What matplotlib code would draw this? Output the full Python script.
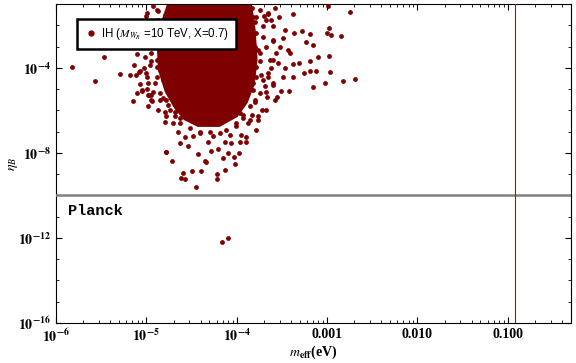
import numpy as np
import matplotlib
matplotlib.use('Agg')
import matplotlib.pyplot as plt
from matplotlib.lines import Line2D

plt.rcParams['font.family'] = ['Liberation Serif', 'DejaVu Serif']
plt.rcParams['mathtext.fontset'] = 'stix'

# scattered points (log10 of m_eff in eV, log10 of eta_B)
log_m_eff = [
    -5.823, -5.566, -5.466, -5.293, -5.182, -5.146, -5.105, -5.135, -5.116, -5.080,
    -5.068, -5.053, -4.987, -5.024, -4.969, -4.939, -5.006, -4.950, -5.009, -4.887,
    -3.572, -3.378, -2.744, -2.990, -2.980, -3.000, -2.953, -2.843, -3.193, -3.274,
    -3.367, -3.157, -3.230, -3.102, -3.193, -2.980, -3.312, -3.256, -3.193, -3.120,
    -2.965, -3.024, -2.826, -2.688, -3.157, -3.378, -3.422, -3.510, -3.555, -3.414,
    -3.433, -3.378, -3.470, -3.488, -3.544, -3.533, -3.654, -3.672, -3.790, -3.700,
    -3.600, -3.462, -3.488, -3.525, -3.600, -3.569, -3.600, -3.617, -3.654, -3.600,
    -3.690, -3.727, -3.710, -3.801, -3.746, -3.782, -3.665, -3.820,
    -3.765, -3.800, -4.777, -4.715, -4.593, -4.611, -4.575, -4.490, -4.398, -4.445,
    -4.354, -4.335, -4.218, -4.214, -4.125, -4.151, -4.022, -4.030, -3.978, -4.096,
    -4.280, -4.428, -4.538, -4.630, -4.575, -4.483, -4.317, -4.207, -4.133, -4.059,
    -3.967, -3.900, -3.893, -3.948, -4.003, -3.875, -3.930, -4.077, -4.188, -4.262,
    -4.409, -4.649, -4.704, -4.796, -4.777, -4.943, -4.980, -5.053, -4.814, -4.722,
    -4.759, -4.685, -4.520, -4.630, -4.335, -4.188, -4.059, -3.967,
    -4.998, -4.943, -4.887, -4.980, -4.925, -4.851, -4.870, -4.814, -5.072, -5.108,
    -4.887, -3.768, -3.724, -3.790, -3.680, -3.834, -4.785,
    -4.998, -4.925, -4.870, -5.017, -4.961, -4.887, -4.851, -4.998, -4.906, -4.814,
    -4.943, -4.851, -4.777, -4.980, -4.870, -4.740, -4.685, -4.796, -4.630, -4.519,
    -4.409, -4.298, -4.114, -4.003, -3.930, -3.856, -3.801, -3.746, -3.820, -3.709,
    -3.654, -3.782, -3.635, -3.746, -3.672, -3.599, -3.782, -3.709, -3.617, -3.820,
    -3.746, -3.654, -3.599, -3.580, -3.672, -3.765, -3.856,
    -4.796, -4.818, -4.851, -3.834, -3.801,
    -4.162, -4.096,
]
log_eta_B = [
    -3.95, -4.60, -3.47, -4.30, -4.36, -5.55, -3.36, -3.86, -4.33, -4.20,
    -4.77, -5.07, -4.99, -3.99, -5.30, -5.54, -4.25, -3.70, -1.585, -1.27,
    -1.19, -1.47, -1.38, -1.08, -2.13, -2.36, -2.48, -2.49, -2.41, -2.29,
    -2.36, -2.92, -2.80, -3.51, -3.66, -3.43, -3.78, -4.25, -4.13, -4.17,
    -4.20, -4.72, -4.60, -4.53, -4.88, -4.41, -5.07, -5.08, -5.38, -3.29,
    -3.15, -3.81, -4.00, -4.41, -3.78, -1.59, -1.46, -1.74, -1.63, -1.55,
    -2.05, -2.21, -2.61, -3.00, -2.76, -3.31, -3.62, -4.00, -4.41, -4.80,
    -4.85, -4.33, -2.53, -3.00, -3.70, -4.44, -5.35, -5.03,
    -6.45, -5.59, -7.94, -8.38, -8.96, -9.19, -9.24, -8.85, -8.85, -9.59,
    -8.38, -8.41, -9.00, -9.24, -8.80, -8.25, -8.54, -8.21, -8.01, -8.01,
    -7.91, -8.05, -7.70, -7.54, -7.26, -7.23, -7.50, -7.81, -7.47, -7.54,
    -7.47, -7.50, -7.26, -7.15, -6.76, -6.60, -6.37, -7.15, -7.07, -7.23,
    -7.00, -7.00, -6.58, -6.06, -6.29, -5.51, -5.27, -5.03, -5.43, -5.43,
    -5.74, -6.06, -6.13, -6.37, -6.45, -6.13, -6.29, -6.13,
    -2.84, -3.31, -3.94, -4.72, -5.12, -5.51, -1.74, -2.37, -4.17, -5.19,
    -4.41, -3.15, -5.98, -6.92, -5.13, -6.21, -7.97,
    -1.43, -1.11, -1.35, -3.47, -3.86, -3.62, -4.09, -4.41, -4.72, -4.56,
    -5.27, -5.19, -5.51, -5.82, -5.98, -5.98, -6.29, -6.53, -6.60, -6.84,
    -7.07, -7.00, -6.92, -6.60, -6.21, -5.82, -5.51, -5.19, -4.72, -4.56,
    -4.25, -3.94, -3.62, -3.31, -3.00, -2.68, -2.37, -2.05, -1.74, -1.59,
    -1.27, -1.43, -4.72, -5.51, -5.98, -6.29, -6.45,
    -1.51, -2.92, -2.21, -1.18, -1.84,
    -12.20, -12.01,
]

# outline of the dense, fully covered part of the scan
core_log_m = [-4.762, -3.834, -3.790, -3.768, -3.801, -3.878, -3.989, -4.188,
              -4.431, -4.586, -4.696, -4.796, -4.873, -4.884, -4.829]
core_log_eta = [-0.9, -0.9, -2.21, -3.62, -4.80, -5.65, -6.31, -6.78,
                -6.78, -6.45, -5.88, -5.13, -4.09, -2.92, -1.74]

planck_eta = 1e-10
planck_mass = 0.12

x_ticks = [1e-6, 1e-5, 1e-4, 1e-3, 1e-2, 1e-1]
x_labels = [r'$\mathbf{10^{-6}}$', r'$\mathbf{10^{-5}}$', r'$\mathbf{10^{-4}}$',
            '0.001', '0.010', '0.100']
y_ticks = [1e-16, 1e-12, 1e-8, 1e-4]
y_labels = [r'$\mathbf{10^{-16}}$', r'$\mathbf{10^{-12}}$',
            r'$\mathbf{10^{-8}}$', r'$\mathbf{10^{-4}}$']

color = '#7f0000'

fig = plt.figure(figsize=(5.76, 3.63), dpi=100)
ax = fig.add_axes([0.0972, 0.1102, 0.8938, 0.8788])

ax.fill(10 ** np.array(core_log_m), 10 ** np.array(core_log_eta),
        color=color, lw=0, zorder=2)
ax.scatter(10 ** np.array(log_m_eff), 10 ** np.array(log_eta_B),
           s=12, color=color, lw=0, zorder=3)

ax.axhline(planck_eta, color='#808080', lw=1.8, zorder=4)
ax.axvline(planck_mass, color='#cc0000', lw=0.8, zorder=4)

ax.set_xscale('log')
ax.set_yscale('log')
ax.set_xlim(1e-6, 0.5)
ax.set_ylim(1e-16, 1e-1)

ax.set_xticks(x_ticks)
ax.set_xticklabels(x_labels, fontweight='bold', fontsize=10)
ax.set_yticks(y_ticks)
ax.set_yticklabels(y_labels, fontweight='bold', fontsize=10)
ax.yaxis.set_minor_locator(matplotlib.ticker.LogLocator(base=10, subs=[1.0], numticks=30))
ax.yaxis.set_minor_formatter(matplotlib.ticker.NullFormatter())
ax.tick_params(which='both', direction='in', top=True, right=True)
ax.tick_params(which='major', length=4, width=0.8)
ax.tick_params(which='minor', length=2.5, width=0.6)

ax.set_xlabel(r'$\mathbf{\mathit{m}_{eff}}$(eV)', fontsize=10, fontweight='bold')
ax.xaxis.set_label_coords(0.5, -0.065)
ax.set_ylabel(r'$\eta_B$', fontsize=10)
ax.yaxis.set_label_coords(-0.07, 0.5)

ax.text(0.023, 0.351, 'Planck', transform=ax.transAxes, fontsize=11,
        fontweight='bold', family='Liberation Mono', va='center', zorder=5)

handle = Line2D([], [], marker='o', ls='', color=color, markersize=3.5)
leg = ax.legend([handle], [r'IH ($M_{W_R}$ =10 TeV, X=0.7)'], loc='upper left',
                bbox_to_anchor=(0.030, 0.97), fancybox=False, framealpha=1,
                edgecolor='black', handletextpad=0.3, borderpad=0.6,
                handlelength=1.2, prop={'family': 'Liberation Sans', 'size': 8.3})
leg.get_frame().set_linewidth(1.8)
leg.set_zorder(6)

fig.savefig('out.png', dpi=100)
